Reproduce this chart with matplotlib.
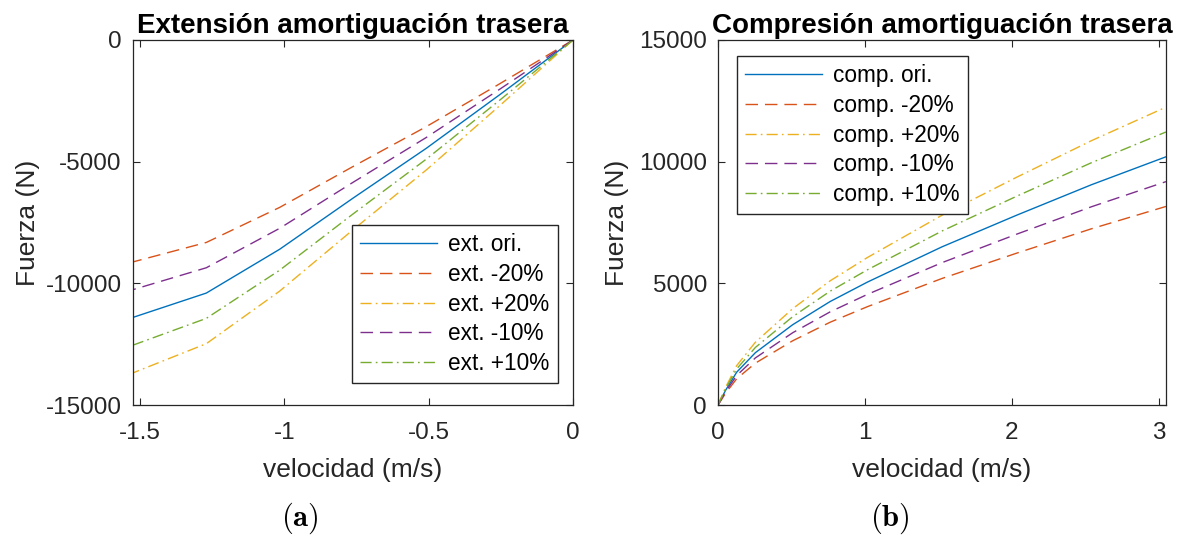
import numpy as np
import matplotlib
matplotlib.use("Agg")
import matplotlib.pyplot as plt

plt.rcParams['font.family'] = ['Liberation Sans', 'DejaVu Sans']
plt.rcParams['mathtext.fontset'] = 'cm'
plt.rcParams['axes.unicode_minus'] = False

# Extension (rebound) curves, velocity in m/s, force in N
v_ext = [0, -0.254, -0.508, -0.762, -1.016, -1.27, -1.524]
ext_ori = [0, -2250, -4450, -6500, -8600, -10400, -11400]
ext_m20 = [0, -1800, -3560, -5200, -6880, -8320, -9120]
ext_p20 = [0, -2700, -5340, -7800, -10320, -12480, -13680]
ext_m10 = [0, -2025, -4005, -5850, -7740, -9360, -10260]
ext_p10 = [0, -2475, -4895, -7150, -9460, -11440, -12540]

# Compression curves
v_comp = [0, 0.0508, 0.127, 0.254, 0.508, 0.762, 1.016, 1.524, 2.032, 2.54, 3.048]
comp_ori = [0, 600, 1350, 2150, 3300, 4250, 5050, 6500, 7800, 9050, 10200]
comp_m20 = [0, 480, 1080, 1720, 2640, 3400, 4040, 5200, 6240, 7240, 8160]
comp_p20 = [0, 720, 1620, 2580, 3960, 5100, 6060, 7800, 9360, 10860, 12240]
comp_m10 = [0, 540, 1215, 1935, 2970, 3825, 4545, 5850, 7020, 8145, 9180]
comp_p10 = [0, 660, 1485, 2365, 3630, 4675, 5555, 7150, 8580, 9955, 11220]

ext_labels = ['ext. ori.', 'ext. -20%', 'ext. +20%', 'ext. -10%', 'ext. +10%']
comp_labels = ['comp. ori.', 'comp. -20%', 'comp. +20%', 'comp. -10%', 'comp. +10%']

colors = ['#0072BD', '#D95319', '#EDB120', '#7E2F8E', '#77AC30']
dash = (9, 5)
dashdot = (8, 3, 1.2, 3)
styles = [None, dash, dashdot, dash, dashdot]

axis_col = '#262626'


def style_axes(ax, ypad):
    for s in ax.spines.values():
        s.set_color(axis_col)
        s.set_linewidth(0.9)
    ax.tick_params(direction='in', top=True, right=True, length=5,
                   width=0.8, colors=axis_col, labelsize=17.5)
    ax.tick_params(axis='x', pad=12)
    ax.tick_params(axis='y', pad=8)
    ax.set_xlabel('velocidad (m/s)', fontsize=19, color=axis_col, labelpad=10)
    ax.set_ylabel('Fuerza (N)', fontsize=19, color=axis_col, labelpad=ypad)


def draw(ax, v, series, labels):
    for y, lab, c, d in zip(series, labels, colors, styles):
        line, = ax.plot(v, y, color=c, lw=1.0, label=lab)
        if d is not None:
            line.set_dashes(d)


def add_legend(ax, anchor):
    ax.legend(loc='upper left', bbox_to_anchor=anchor, fontsize=16.3,
              handlelength=3.4, frameon=True, fancybox=False, edgecolor=axis_col,
              framealpha=1, borderpad=0.35, labelspacing=0.3, handletextpad=0.5,
              borderaxespad=0)


fig = plt.figure(figsize=(11.81, 5.36), dpi=100)
ax1 = fig.add_axes([0.1126, 0.2444, 0.3726, 0.681])
ax2 = fig.add_axes([0.608, 0.2444, 0.3793, 0.681])

draw(ax1, v_ext, [ext_ori, ext_m20, ext_p20, ext_m10, ext_p10], ext_labels)
ax1.set_xlim(-1.524, 0)
ax1.set_ylim(-15000, 0)
ax1.set_xticks([-1.5, -1, -0.5, 0])
ax1.set_xticklabels(['-1.5', '-1', '-0.5', '0'])
ax1.set_yticks([-15000, -10000, -5000, 0])
ax1.set_title('Extensión amortiguación trasera', fontsize=20, fontweight='bold', pad=5)
style_axes(ax1, 4)
add_legend(ax1, (0.498, 0.493))

draw(ax2, v_comp, [comp_ori, comp_m20, comp_p20, comp_m10, comp_p10], comp_labels)
ax2.set_xlim(0, 3.048)
ax2.set_ylim(0, 15000)
ax2.set_xticks([0, 1, 2, 3])
ax2.set_yticks([0, 5000, 10000, 15000])
ax2.set_title('Compresión amortiguación trasera', fontsize=20, fontweight='bold', pad=5)
style_axes(ax2, 7)
add_legend(ax2, (0.042, 0.956))

fig.text(300 / 1181, 1 - 518 / 536, r'$\mathbf{(a)}$', fontsize=22, ha='center', va='center')
fig.text(890 / 1181, 1 - 518 / 536, r'$\mathbf{(b)}$', fontsize=22, ha='center', va='center')

fig.savefig('out.png', dpi=100, facecolor='white')
